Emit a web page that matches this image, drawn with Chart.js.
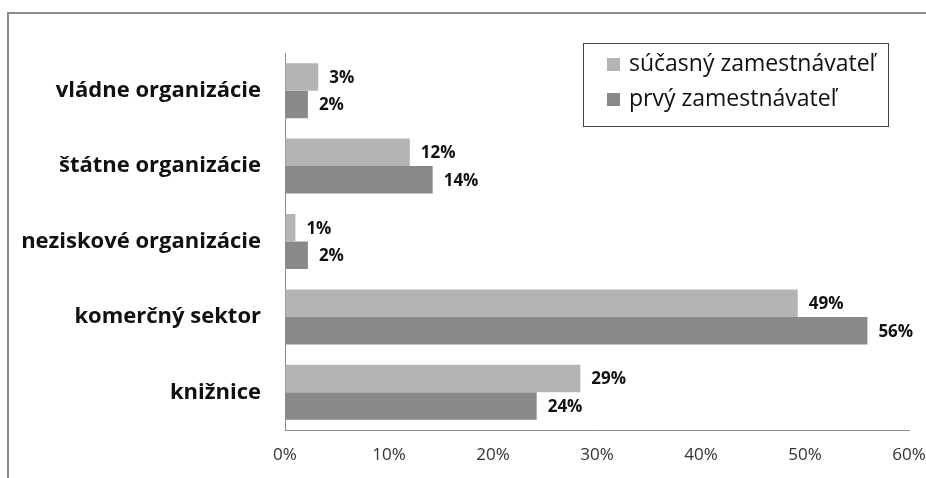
<!DOCTYPE html>
<html>
<head>
<meta charset="utf-8">
<script src="https://cdn.jsdelivr.net/npm/chart.js@4.4.1/dist/chart.umd.min.js"></script>
<style>
  html, body { margin: 0; padding: 0; background: #fff; }
  #ramec {
    position: absolute; left: 7px; top: 12px; width: 940px; height: 480px;
    border-top: 2px solid #8c8c8c; border-left: 2px solid #8c8c8c;
  }
  #obal { position: absolute; left: 0; top: 0; width: 926px; height: 478px; }
</style>
</head>
<body>
<div id="ramec"></div>
<div id="obal"><canvas id="graf"></canvas></div>
<script>
// Kategórie zamestnávateľov (zhora nadol)
const kategorie = [
  "vládne organizácie",
  "štátne organizácie",
  "neziskové organizácie",
  "komerčný sektor",
  "knižnice"
];

// Podiely v percentách
const sucasny = [3.2, 12.0, 1.0, 49.3, 28.4];
const prvy = [2.2, 14.2, 2.2, 56.0, 24.2];

// Popisky hodnôt tak, ako sú v grafe
const popiskySucasny = ["3%", "12%", "1%", "49%", "29%"];
const popiskyPrvy = ["2%", "14%", "2%", "56%", "24%"];

const nazvySerii = ["súčasný zamestnávateľ", "prvý zamestnávateľ"];
const farby = ["#b4b4b4", "#898989"];

const FONT = "'Open Sans', 'Noto Sans', sans-serif";

// Popisky hodnôt na konci stĺpcov
const popiskyPlugin = {
  id: "popisky",
  afterDatasetsDraw(chart) {
    const ctx = chart.ctx;
    ctx.save();
    ctx.font = "bold 17px " + FONT;
    ctx.fillStyle = "#111";
    ctx.textAlign = "left";
    ctx.textBaseline = "middle";
    chart.data.datasets.forEach((ds, i) => {
      const meta = chart.getDatasetMeta(i);
      meta.data.forEach((bar, j) => {
        ctx.fillText(ds.popisky[j], bar.x + 11, bar.y + 1);
      });
    });
    ctx.restore();
  }
};

// Legenda v rámčeku vpravo hore
const legendaPlugin = {
  id: "legenda",
  afterDraw(chart) {
    const ctx = chart.ctx;
    const x = 583, y = 43, w = 305, h = 83;
    ctx.save();
    ctx.fillStyle = "#fff";
    ctx.fillRect(x, y, w, h);
    ctx.strokeStyle = "#444";
    ctx.lineWidth = 1;
    ctx.strokeRect(x + 0.5, y + 0.5, w, h);
    ctx.font = "23px " + FONT;
    ctx.textBaseline = "middle";
    chart.data.datasets.forEach((ds, i) => {
      const ry = y + 21 + i * 35;
      ctx.fillStyle = ds.backgroundColor;
      ctx.fillRect(x + 24, ry - 6, 13, 13);
      ctx.fillStyle = "#111";
      ctx.fillText(ds.label, x + 46, ry);
    });
    ctx.restore();
  }
};

new Chart(document.getElementById("graf"), {
  type: "bar",
  data: {
    labels: kategorie,
    datasets: [
      { label: nazvySerii[0], data: sucasny, backgroundColor: farby[0], popisky: popiskySucasny },
      { label: nazvySerii[1], data: prvy, backgroundColor: farby[1], popisky: popiskyPrvy }
    ]
  },
  options: {
    indexAxis: "y",
    responsive: true,
    maintainAspectRatio: false,
    animation: false,
    layout: { padding: { top: 53, right: 17, bottom: 0, left: 0 } },
    datasets: {
      bar: { categoryPercentage: 0.73, barPercentage: 1.0, borderWidth: 0 }
    },
    plugins: {
      legend: { display: false },
      tooltip: { enabled: false }
    },
    scales: {
      x: {
        min: 0,
        max: 60,
        // neviditeľné značky iba na odsadenie popisov osi
        grid: { drawOnChartArea: false, drawTicks: true, tickLength: 15, tickColor: "rgba(0,0,0,0)" },
        border: { display: true, color: "#8c8c8c", width: 1 },
        ticks: {
          stepSize: 10,
          padding: 0,
          color: "#333",
          font: { family: FONT, size: 17 },
          callback: v => v + "%"
        },
        afterFit: s => { s.height = 478 - 430; }
      },
      y: {
        grid: { display: false, drawTicks: false },
        border: { display: true, color: "#8c8c8c", width: 1 },
        ticks: {
          padding: 24,
          color: "#111",
          font: { family: FONT, size: 22, weight: "bold" }
        },
        afterFit: s => { s.width = 285; }
      }
    }
  },
  plugins: [popiskyPlugin, legendaPlugin]
});
</script>
</body>
</html>
